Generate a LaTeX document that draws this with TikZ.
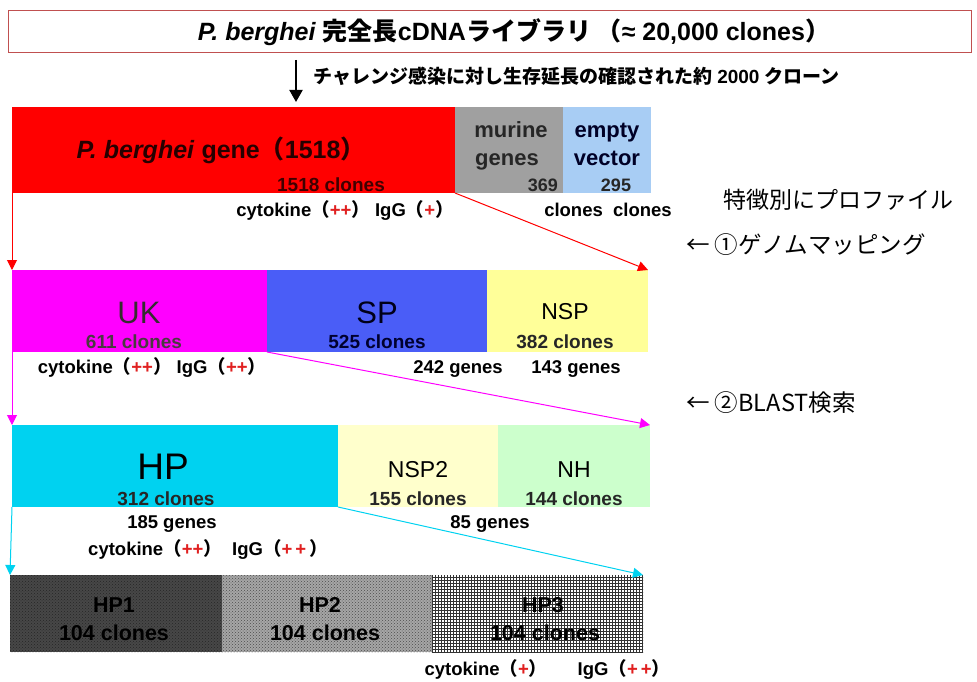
\documentclass[tikz,border=0pt]{standalone}
\usepackage{fontspec}
\setmainfont{Liberation Sans}
\newfontfamily\jp{Noto Sans CJK JP}
\usetikzlibrary{arrows.meta,patterns}
\definecolor{pbred}{HTML}{FF0000}
\definecolor{murgray}{HTML}{A0A0A0}
\definecolor{emptyblue}{HTML}{A8CDF4}
\definecolor{ukmag}{HTML}{FF00FF}
\definecolor{spblue}{HTML}{4A5DF7}
\definecolor{nspyel}{HTML}{FFFF99}
\definecolor{hpcyan}{HTML}{00D2F0}
\definecolor{nsptwo}{HTML}{FFFFCC}
\definecolor{nhgreen}{HTML}{CCFFCC}
\definecolor{titleframe}{HTML}{C05050}
\definecolor{plusred}{HTML}{E02020}
\tikzset{
  seg/.style={anchor=north west, inner sep=0pt, outer sep=0pt},
  lbl/.style={anchor=base, inner sep=0pt, font=\bfseries},
  big/.style={anchor=base, inner sep=0pt},
  conn/.style={line width=1pt, -{Triangle[length=10pt,width=10pt]}},
}
\newcommand{\pl}[1]{\textcolor{plusred}{#1}}
\newcommand{\lp}{{\jp （}}
\newcommand{\rp}{{\jp ）}}
\begin{document}
\begin{tikzpicture}[x=1pt,y=-1pt]
\useasboundingbox (0,0) rectangle (977,682);
% title
\node[seg, draw=titleframe, line width=0.8pt, fill=white, minimum width=963pt, minimum height=42pt] (title) at (8,10) {};
\node[lbl, font=\bfseries\fontsize{25}{28}\selectfont] (titletxt) at (514,41) {\textit{P. berghei} {\jp\bfseries 完全長}cDNA{\jp\bfseries ライブラリ （}≈ 20,000 clones{\jp\bfseries ）}};
\coordinate (arrtop) at (296,60);
\coordinate (arrbot) at (296,102);
\draw[line width=2pt, -{Triangle[length=12pt,width=13pt]}] (arrtop) -- (arrbot);
\node[anchor=base west, inner sep=0pt, font=\bfseries\fontsize{19}{22}\selectfont] (sub) at (313,84) {{\jp\bfseries チャレンジ感染に対し生存延長の確認された約} 2000 {\jp\bfseries クローン}};
% row 1
\node[seg, fill=pbred, minimum width=443pt, minimum height=86pt] (pb) at (12,107) {};
\node[seg, fill=murgray, minimum width=108pt, minimum height=86pt] (mur) at (455,107) {};
\node[seg, fill=emptyblue, minimum width=88pt, minimum height=86pt] (emp) at (563,107) {};
\node[lbl, font=\bfseries\fontsize{25}{28}\selectfont, text=black!85!red] (pbt) at (221,158) {\textit{P. berghei} gene{\jp\bfseries （}1518{\jp\bfseries ）}};
\node[lbl, font=\bfseries\fontsize{19}{22}\selectfont, text=black!75!red] (pbc) at (331,191) {1518 clones};
\node[lbl, font=\bfseries\fontsize{22}{24}\selectfont, text=black!85] (murt) at (511,138) {murine};
\node[lbl, font=\bfseries\fontsize{22}{24}\selectfont, text=black!85] (murt2) at (507,165) {genes};
\node[lbl, anchor=base east, font=\bfseries\fontsize{18}{20}\selectfont, text=black!85] (murn) at (558,191) {369};
\node[lbl, font=\bfseries\fontsize{22}{24}\selectfont, text=black!85!blue] (empt) at (607,138) {empty};
\node[lbl, font=\bfseries\fontsize{22}{24}\selectfont, text=black!85!blue] (empt2) at (607,165) {vector};
\node[lbl, font=\bfseries\fontsize{18}{20}\selectfont, text=black!85] (empn) at (616,191) {295};
\node[lbl, font=\bfseries\fontsize{18.5}{20}\selectfont] (cyt1) at (345,216) {cytokine\lp\pl{++}\rp\ IgG\lp\pl{+}\rp};
\node[lbl, font=\bfseries\fontsize{18.5}{20}\selectfont] (clcl) at (608,216) {clones\ \ clones};
\node[big, font=\fontsize{23}{26}\selectfont] (prof) at (838,208) {\jp 特徴別にプロファイル};
\node[anchor=base west, inner sep=0pt, font=\fontsize{23.5}{26}\selectfont] (step1) at (686,253) {\jp ← ①ゲノムマッピング};
% row 2
\node[seg, fill=ukmag, minimum width=255pt, minimum height=82pt] (uk) at (12,270) {};
\node[seg, fill=spblue, minimum width=220pt, minimum height=82pt] (sp) at (267,270) {};
\node[seg, fill=nspyel, minimum width=161pt, minimum height=82pt] (nsp) at (487,270) {};
\draw[conn, pbred] (pb.south west) -- (uk.north west);
\draw[conn, pbred] (pb.south east) -- (nsp.north east);
\node[big, font=\fontsize{31}{34}\selectfont, text=black!92!magenta] (ukt) at (139,323) {UK};
\node[lbl, font=\bfseries\fontsize{19}{22}\selectfont, text=black!82!magenta] (ukc) at (134,348) {611 clones};
\node[big, font=\fontsize{31}{34}\selectfont, text=black!90!blue] (spt) at (377,323) {SP};
\node[lbl, font=\bfseries\fontsize{19}{22}\selectfont, text=black!82!blue] (spc) at (377,348) {525 clones};
\node[big, font=\fontsize{23}{26}\selectfont, text=black] (nspt) at (565,319) {NSP};
\node[lbl, font=\bfseries\fontsize{19}{22}\selectfont, text=black!85] (nspc) at (565,348) {382 clones};
\node[lbl, font=\bfseries\fontsize{18.5}{20}\selectfont] (cyt2) at (152,373) {cytokine\lp\pl{++}\rp\ IgG\lp\pl{++}\rp};
\node[lbl, font=\bfseries\fontsize{18.5}{20}\selectfont] (g242) at (458,373) {242 genes};
\node[lbl, font=\bfseries\fontsize{18.5}{20}\selectfont] (g143) at (576,373) {143 genes};
\node[anchor=base west, inner sep=0pt, font=\fontsize{23.5}{26}\selectfont] (step2) at (686,411) {\jp ← ②BLAST検索};
% row 3
\node[seg, fill=hpcyan, minimum width=326pt, minimum height=82pt] (hp) at (12,425) {};
\node[seg, fill=nsptwo, minimum width=160pt, minimum height=82pt] (nsp2) at (338,425) {};
\node[seg, fill=nhgreen, minimum width=152pt, minimum height=82pt] (nh) at (498,425) {};
\draw[conn, ukmag] (uk.south west) -- (hp.north west);
\draw[conn, ukmag] (uk.south east) -- (nh.north east);
\node[big, font=\fontsize{37}{40}\selectfont, text=black] (hpt) at (163,479) {HP};
\node[lbl, font=\bfseries\fontsize{19}{22}\selectfont, text=black!85] (hpc) at (166,505) {312 clones};
\node[big, font=\fontsize{23}{26}\selectfont, text=black] (nsp2t) at (418,477) {NSP2};
\node[lbl, font=\bfseries\fontsize{19}{22}\selectfont, text=black!85] (nsp2c) at (418,505) {155 clones};
\node[big, font=\fontsize{23}{26}\selectfont, text=black] (nht) at (574,477) {NH};
\node[lbl, font=\bfseries\fontsize{19}{22}\selectfont, text=black!85] (nhc) at (574,505) {144 clones};
\node[lbl, font=\bfseries\fontsize{18.5}{20}\selectfont] (g185) at (172,528) {185 genes};
\node[lbl, font=\bfseries\fontsize{18.5}{20}\selectfont] (g85) at (490,528) {85 genes};
\node[lbl, font=\bfseries\fontsize{18.5}{20}\selectfont] (cyt3) at (208,555) {cytokine\lp\pl{++}\rp\ \ IgG\lp\pl{+\,+}\,\rp};
% row 4
\node[seg, fill=black!72, minimum width=212pt, minimum height=77pt, postaction={pattern=crosshatch dots, pattern color=black!85}] (hp1) at (10,575) {};
\node[seg, fill=black!35, minimum width=210pt, minimum height=77pt, postaction={pattern=crosshatch dots, pattern color=black!70}] (hp2) at (222,575) {};
\node[seg, fill=white, minimum width=211pt, minimum height=77pt, postaction={pattern=grid, pattern color=black!80}] (hp3) at (432,575) {};
\draw[conn, hpcyan] (hp.south west) -- (hp1.north west);
\draw[conn, hpcyan] (hp.south east) -- (hp3.north east);
\node[lbl, font=\bfseries\fontsize{21.5}{24}\selectfont, text=black] (hp1t) at (114,612) {HP1};
\node[lbl, font=\bfseries\fontsize{21.5}{24}\selectfont, text=black] (hp1c) at (114,640) {104 clones};
\node[lbl, font=\bfseries\fontsize{21.5}{24}\selectfont, text=black] (hp2t) at (320,612) {HP2};
\node[lbl, font=\bfseries\fontsize{21.5}{24}\selectfont, text=black] (hp2c) at (325,640) {104 clones};
\node[lbl, font=\bfseries\fontsize{21.5}{24}\selectfont, text=black] (hp3t) at (543,612) {HP3};
\node[lbl, font=\bfseries\fontsize{21.5}{24}\selectfont, text=black] (hp3c) at (545,640) {104 clones};
\node[lbl, font=\bfseries\fontsize{18.5}{20}\selectfont] (cyt4) at (486,675) {cytokine\lp\pl{+}\rp};
\node[lbl, font=\bfseries\fontsize{18.5}{20}\selectfont] (igg4) at (624,675) {IgG\lp\pl{+\,+}\rp};
\end{tikzpicture}
\end{document}
